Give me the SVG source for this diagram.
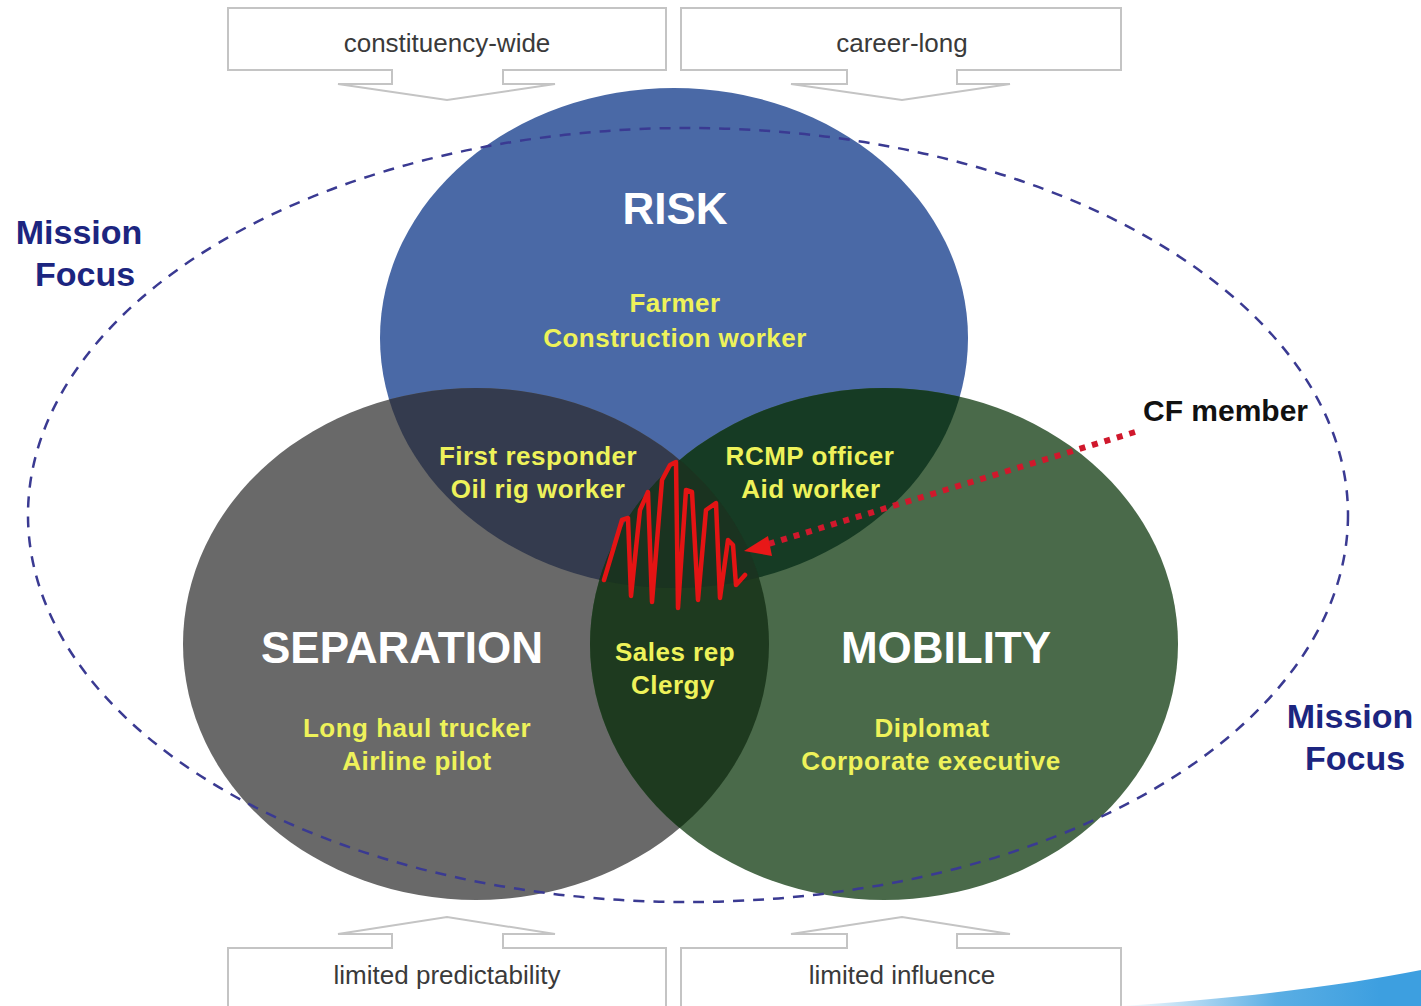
<svg xmlns="http://www.w3.org/2000/svg" width="1421" height="1006" viewBox="0 0 1421 1006">
<style>
.lbl{font-family:"Liberation Sans",Arial,sans-serif;font-weight:bold;text-anchor:middle}
.big{font-size:44px;fill:#ffffff}
.yel{font-size:26px;fill:#eef25a;letter-spacing:0.5px}
.mf{font-size:34px;fill:#1c2580}
.box{fill:#ffffff;stroke:#c4c4c4;stroke-width:2}
.btxt{font-family:"Liberation Sans",Arial,sans-serif;font-size:26px;fill:#3a3a3a;text-anchor:middle}
</style>
<defs>
<clipPath id="cRisk"><ellipse cx="674" cy="338" rx="294" ry="250"/></clipPath>
<clipPath id="cSep"><ellipse cx="476" cy="644" rx="293" ry="256"/></clipPath>
<clipPath id="cMob"><ellipse cx="884" cy="644" rx="294" ry="256"/></clipPath>
<linearGradient id="sw" x1="1120" y1="0" x2="1380" y2="0" gradientUnits="userSpaceOnUse">
<stop offset="0" stop-color="#ffffff"/>
<stop offset="0.6" stop-color="#5aaee4"/>
<stop offset="1" stop-color="#3d9fe0"/>
</linearGradient>
</defs>
<rect width="1421" height="1006" fill="#ffffff"/>

<g id="box-constituency">
<path class="box" d="M228,8 H666 V70 H503 V84 H555 L447,100 L338,84 H392 V70 H228 Z"/>
<text class="btxt" x="447" y="52">constituency-wide</text>
</g>
<g id="box-career">
<path class="box" d="M681,8 H1121 V70 H957 V84 H1010 L902,100 L791,84 H847 V70 H681 Z"/>
<text class="btxt" x="902" y="52">career-long</text>
</g>

<g id="risk">
<ellipse cx="674" cy="338" rx="294" ry="250" fill="#4a69a6"/>
</g>
<g id="separation">
<ellipse cx="476" cy="644" rx="293" ry="256" fill="#696969"/>
</g>
<g id="mobility">
<ellipse cx="884" cy="644" rx="294" ry="256" fill="#4a6a4a"/>
</g>
<g id="overlaps">
<g clip-path="url(#cSep)"><ellipse cx="674" cy="338" rx="294" ry="250" fill="#343b4e"/></g>
<g clip-path="url(#cMob)"><ellipse cx="674" cy="338" rx="294" ry="250" fill="#163b24"/></g>
<g clip-path="url(#cMob)"><ellipse cx="476" cy="644" rx="293" ry="256" fill="#1e3a1f"/></g>
<g clip-path="url(#cRisk)"><g clip-path="url(#cSep)"><ellipse cx="884" cy="644" rx="294" ry="256" fill="#1a3320"/></g></g>
</g>

<g id="mission-ellipse">
<ellipse cx="688" cy="515" rx="660" ry="387" fill="none" stroke="#3a3a92" stroke-width="2.5" stroke-dasharray="11 9"/>
</g>

<g id="zigzag">
<path d="M604,580 L622,520 L628,518 L631,596 L640,510 L648,492 L652,602 L662,480 L670,465 L676,462 L678,608 L686,490 L692,492 L698,600 L706,510 L716,503 L720,598 L728,540 L733,545 L736,585 L745,575" fill="none" stroke="#e41414" stroke-width="4.5" stroke-linejoin="round" stroke-linecap="round"/>
</g>

<g id="labels">
<text class="lbl big" x="675" y="224">RISK</text>
<text class="lbl yel" x="675" y="312">Farmer</text>
<text class="lbl yel" x="675" y="347">Construction worker</text>
<text class="lbl yel" x="538" y="465">First responder</text>
<text class="lbl yel" x="538" y="498">Oil rig worker</text>
<text class="lbl yel" x="810" y="465">RCMP officer</text>
<text class="lbl yel" x="811" y="498">Aid worker</text>
<text class="lbl big" x="402" y="663">SEPARATION</text>
<text class="lbl big" x="946" y="663">MOBILITY</text>
<text class="lbl yel" x="675" y="661">Sales rep</text>
<text class="lbl yel" x="673" y="694">Clergy</text>
<text class="lbl yel" x="417" y="737">Long haul trucker</text>
<text class="lbl yel" x="417" y="770">Airline pilot</text>
<text class="lbl yel" x="932" y="737">Diplomat</text>
<text class="lbl yel" x="931" y="770">Corporate executive</text>
</g>

<g id="mission-focus-left">
<text class="lbl mf" x="79" y="244">Mission</text>
<text class="lbl mf" x="85" y="286">Focus</text>
</g>
<g id="mission-focus-right">
<text class="lbl mf" x="1350" y="728">Mission</text>
<text class="lbl mf" x="1355" y="770">Focus</text>
</g>

<g id="cf-member">
<text class="lbl" x="1143" y="421" style="text-anchor:start;font-size:30px;fill:#111111">CF member</text>
</g>

<g id="connectors">
<line x1="1135" y1="432" x2="762" y2="546" stroke="#d0182c" stroke-width="6" stroke-dasharray="6 7"/>
<path d="M768,536 L744,551 L772,556 Z" fill="#e81818"/>
</g>

<g id="box-predictability">
<path class="box" d="M228,1010 V948 H392 V934 H338 L447,917 L555,934 H503 V948 H666 V1010"/>
<text class="btxt" x="447" y="984">limited predictability</text>
</g>
<g id="box-influence">
<path class="box" d="M681,1010 V948 H847 V934 H791 L902,917 L1010,934 H957 V948 H1121 V1010"/>
<text class="btxt" x="902" y="984">limited influence</text>
</g>

<path d="M1120,1006 C1250,998 1350,984 1421,970 L1421,1006 Z" fill="url(#sw)"/>
</svg>
